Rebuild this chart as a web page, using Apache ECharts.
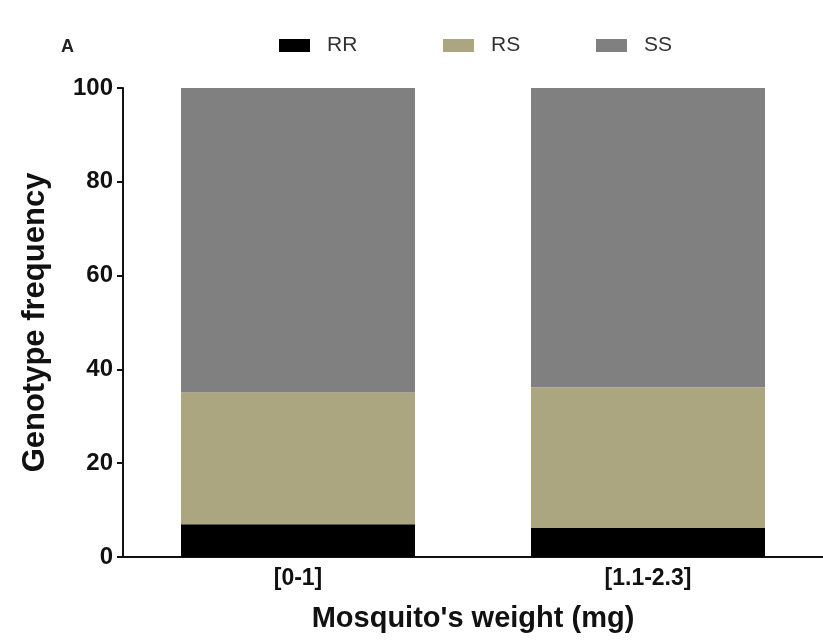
<!DOCTYPE html>
<html><head><meta charset="utf-8">
<script src="https://cdn.jsdelivr.net/npm/echarts@6/dist/echarts.min.js"></script>
<style>html,body{margin:0;padding:0;background:#fff}#c{width:823px;height:642px}</style>
</head><body><div id="c"></div>
<script>
const categories = ['[0-1]', '[1.1-2.3]'];
const RR = [7.0, 6.2];
const RS = [28.1, 30.0];
const SS = [64.9, 63.8];
const yTicks = [0, 20, 40, 60, 80, 100];
const seriesNames = ['RR', 'RS', 'SS'];

const chart = echarts.init(document.getElementById('c'));
const font = 'Liberation Sans, Arial, sans-serif';
const mk = (name, data, color) => ({
  name, type: 'bar', stack: 'g', data, barWidth: 234,
  itemStyle: { color }, emphasis: { disabled: true }
});
const legendLefts = [274, 438, 591];
chart.setOption({
  animation: false,
  title: { text: 'A', left: 56, top: 33, textStyle: { fontFamily: font, fontSize: 18, fontWeight: 'bold', color: '#222' } },
  legend: seriesNames.map((n, i) => ({
    left: legendLefts[i], top: 30, itemWidth: 31, itemHeight: 13, icon: 'rect',
    textStyle: { fontFamily: font, fontSize: 21, color: '#333', padding: [0, 0, 0, 12] },
    data: [n]
  })),
  grid: { left: 123, right: 0, top: 88, bottom: 85, containLabel: false },
  xAxis: {
    type: 'category', data: categories,
    name: "Mosquito's weight (mg)", nameLocation: 'middle', nameGap: 47,
    nameTextStyle: { fontFamily: font, fontSize: 29, fontWeight: 'bold', color: '#111' },
    axisLine: { lineStyle: { color: '#111', width: 2 } },
    axisTick: { alignWithLabel: true, length: 6, lineStyle: { color: '#111', width: 2 } },
    axisLabel: { fontFamily: font, fontSize: 23, fontWeight: 'bold', color: '#111', margin: 10 }
  },
  yAxis: {
    type: 'value', min: 0, max: 100, interval: 20,
    name: 'Genotype frequency', nameLocation: 'middle', nameGap: 72,
    nameTextStyle: { fontFamily: font, fontSize: 31, fontWeight: 'bold', color: '#111' },
    axisLine: { show: true, lineStyle: { color: '#111', width: 2 } },
    axisTick: { show: true, length: 6, lineStyle: { color: '#111', width: 2 } },
    axisLabel: { fontFamily: font, fontSize: 24, fontWeight: 'bold', color: '#111', margin: 10,
      formatter: v => yTicks.includes(v) ? String(v) : '' },
    splitLine: { show: false }
  },
  series: [mk('RR', RR, '#000000'), mk('RS', RS, '#aca680'), mk('SS', SS, '#808080')]
});
</script></body></html>
